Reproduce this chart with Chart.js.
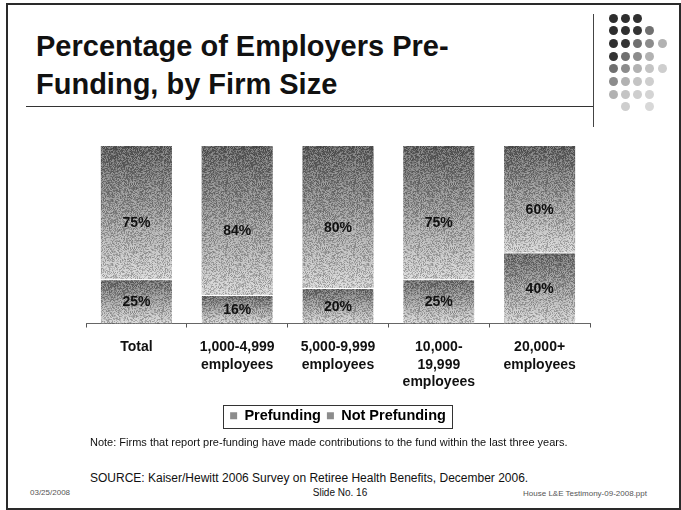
<!DOCTYPE html>
<html>
<head>
<meta charset="utf-8">
<script src="https://cdn.jsdelivr.net/npm/chart.js@4"></script>
<style>
  body { margin: 0; background: #fff; font-family: "Liberation Sans", Arial, sans-serif; }
  #slide { position: relative; width: 681px; height: 510px; overflow: hidden; }
  .abs { position: absolute; white-space: nowrap; color: #111; }
  #frame { position: absolute; left: 6px; top: 3px; width: 675px; height: 507px; box-sizing: border-box; border: 2px solid #2a2a2a; }
  #title { left: 36px; top: 27px; font-size: 29px; font-weight: bold; line-height: 38px; }
  #rule { position: absolute; left: 26px; top: 106px; width: 567px; height: 0; border-top: 1.5px solid #333; }
  #vrule { position: absolute; left: 593px; top: 14px; width: 0; height: 113px; border-left: 1px solid #444; }
  #chartBox { position: absolute; left: 0; top: 130px; }
  .dot { position: absolute; width: 9px; height: 9px; border-radius: 50%; }
</style>
</head>
<body>
<div id="slide">
  <div id="frame"></div>
  <div id="title" class="abs">Percentage of Employers Pre-<br>Funding, by Firm Size</div>
  <div id="rule"></div>
  <div id="vrule"></div>
  <div id="dots"></div>
  <div id="chartBox"><canvas id="fundChart" width="681" height="309"></canvas></div>
  <div class="abs" style="left:90px; top:436px; font-size:11px; line-height:13px;">Note: Firms that report pre-funding have made contributions to the fund within the last three years.</div>
  <div class="abs" style="left:90px; top:471px; font-size:12px; line-height:14px;">SOURCE: Kaiser/Hewitt 2006 Survey on Retiree Health Benefits, December 2006.</div>
  <div class="abs" style="left:290px; width:100px; text-align:center; top:487px; font-size:10px; line-height:12px;">Slide No. 16</div>
  <div class="abs" style="left:30px; top:488px; font-size:8px; line-height:10px; color:#555;">03/25/2008</div>
  <div class="abs" style="right:34px; top:489px; font-size:8px; line-height:10px; color:#555;">House L&amp;E Testimony-09-2008.ppt</div>
</div>

<script>
const categories = [
    'Total',
    ['1,000-4,999', 'employees'],
    ['5,000-9,999', 'employees'],
    ['10,000-', '19,999', 'employees'],
    ['20,000+', 'employees']
];
const prefunding = [25, 16, 20, 25, 40];
const notPrefunding = [75, 84, 80, 75, 60];
const seriesNames = ['Prefunding', 'Not Prefunding'];

// decorative dot block in the corner, darker toward the top-left
const dotRows = [[0, 1, 2], [0, 1, 2, 3], [0, 1, 2, 3, 4], [0, 1, 2, 3], [0, 1, 2, 3, 4], [0, 1, 2, 3], [0, 1, 2, 3], [1, 3]];
const dotShades = ['#2e2e2e', '#2e2e2e', '#303030', '#343434', '#707070', '#8c8c8c', '#b2b2b2', '#c4c4c4', '#cecece', '#d4d4d4', '#d8d8d8'];
const dotsEl = document.getElementById('dots');
dotRows.forEach((cols, r) => {
    cols.forEach(c => {
        const d = document.createElement('div');
        d.className = 'dot';
        d.style.left = (608.5 + c * 12.3) + 'px';
        d.style.top = (13.5 + r * 12.7) + 'px';
        d.style.background = dotShades[Math.min(r + c, dotShades.length - 1)];
        dotsEl.appendChild(d);
    });
});

// grey vertical gradient for each stacked segment
function segmentFill(ctx) {
    const chart = ctx.chart;
    if (!chart.chartArea || ctx.type !== 'data') return '#999';
    const y = chart.scales.y;
    const i = ctx.dataIndex;
    const start = ctx.datasetIndex === 0 ? 0 : prefunding[i];
    const end = ctx.datasetIndex === 0 ? prefunding[i] : 100;
    const top = y.getPixelForValue(end);
    const bottom = y.getPixelForValue(start);
    const g = chart.ctx.createLinearGradient(0, top, 0, bottom);
    g.addColorStop(0, ctx.datasetIndex === 0 ? '#666' : '#5c5c5c');
    g.addColorStop(1, '#d6d6d6');
    return g;
}

// fine grain texture laid over the bars
function makeGrain() {
    const c = document.createElement('canvas');
    c.width = 64; c.height = 64;
    const g = c.getContext('2d');
    const img = g.createImageData(64, 64);
    let s = 12345;
    for (let p = 0; p < 64 * 64; p++) {
        s = (s * 1103515245 + 12345) & 0x7fffffff;
        const v = (s >> 8) & 255;
        const on = v > 128;
        img.data[p * 4] = on ? 255 : 0;
        img.data[p * 4 + 1] = on ? 255 : 0;
        img.data[p * 4 + 2] = on ? 255 : 0;
        img.data[p * 4 + 3] = (v % 64) + 10;
    }
    g.putImageData(img, 0, 0);
    return c;
}
const grainCanvas = makeGrain();

const grainPlugin = {
    id: 'grain',
    afterDatasetsDraw(chart) {
        const ctx = chart.ctx;
        const pattern = ctx.createPattern(grainCanvas, 'repeat');
        chart.data.datasets.forEach((ds, di) => {
            chart.getDatasetMeta(di).data.forEach(el => {
                const { x, y, base, width } = el.getProps(['x', 'y', 'base', 'width'], true);
                ctx.save();
                ctx.fillStyle = pattern;
                ctx.fillRect(x - width / 2, Math.min(y, base) + (di === 0 ? 1 : 0), width, Math.abs(base - y) - (di === 0 ? 1 : 0));
                ctx.restore();
            });
        });
    }
};

const valueLabels = {
    id: 'valueLabels',
    afterDatasetsDraw(chart) {
        const ctx = chart.ctx;
        ctx.save();
        ctx.font = 'bold 14px "Liberation Sans", Arial, sans-serif';
        ctx.fillStyle = '#111';
        ctx.textAlign = 'center';
        ctx.textBaseline = 'middle';
        chart.data.datasets.forEach((ds, di) => {
            chart.getDatasetMeta(di).data.forEach((el, i) => {
                const { x, y, base } = el.getProps(['x', 'y', 'base'], true);
                const shift = di === 1 ? 11 : 1;
                ctx.fillText(ds.data[i] + '%', x, (y + base) / 2 + shift);
            });
        });
        ctx.restore();
    }
};

// thin frame around the legend items
const legendFrame = {
    id: 'legendFrame',
    afterDraw(chart) {
        const boxes = chart.legend && chart.legend.legendHitBoxes;
        if (!boxes || !boxes.length) return;
        const left = Math.min(...boxes.map(b => b.left)) - 7;
        const right = Math.max(...boxes.map(b => b.left + b.width)) + 6;
        const top = Math.min(...boxes.map(b => b.top)) - 4;
        const bottom = Math.max(...boxes.map(b => b.top + b.height)) + 4;
        const ctx = chart.ctx;
        ctx.save();
        ctx.strokeStyle = '#333';
        ctx.lineWidth = 1;
        ctx.strokeRect(Math.round(left) + 0.5, Math.round(top) + 0.5, Math.round(right - left), Math.round(bottom - top));
        ctx.restore();
    }
};

const ctx = document.getElementById('fundChart').getContext('2d');
new Chart(ctx, {
    type: 'bar',
    data: {
        labels: categories,
        datasets: [
            {
                label: seriesNames[0],
                data: prefunding,
                backgroundColor: segmentFill,
                borderColor: '#fff',
                borderWidth: { top: 1, right: 0, bottom: 0, left: 0 },
                borderSkipped: false
            },
            {
                label: seriesNames[1],
                data: notPrefunding,
                backgroundColor: segmentFill,
                borderWidth: 0
            }
        ]
    },
    options: {
        responsive: false,
        animation: false,
        events: [],
        layout: { padding: { left: 86, right: 91, top: 16, bottom: 6 } },
        datasets: { bar: { categoryPercentage: 1, barPercentage: 0.705 } },
        plugins: {
            tooltip: { enabled: false },
            legend: {
                position: 'bottom',
                labels: {
                    color: '#111',
                    font: { family: '"Liberation Sans", Arial, sans-serif', size: 14.5, weight: 'bold' },
                    boxWidth: 7,
                    boxHeight: 7,
                    padding: 6,
                    generateLabels(chart) {
                        return chart.data.datasets.map((ds, i) => ({
                            text: ds.label,
                            fillStyle: '#8c8c8c',
                            strokeStyle: '#8c8c8c',
                            lineWidth: 0,
                            datasetIndex: i
                        }));
                    }
                }
            }
        },
        scales: {
            x: {
                stacked: true,
                grid: {
                    offset: true,
                    drawOnChartArea: false,
                    drawTicks: true,
                    tickLength: 4,
                    color: '#555'
                },
                border: { display: true, color: '#666', width: 1 },
                ticks: {
                    color: '#111',
                    padding: 11,
                    maxRotation: 0,
                    autoSkip: false,
                    font: { family: '"Liberation Sans", Arial, sans-serif', size: 14, weight: 'bold', lineHeight: 1.25 }
                },
                afterFit(scale) { scale.height = 79; }
            },
            y: {
                stacked: true,
                display: false,
                min: 0,
                max: 100
            }
        }
    },
    plugins: [grainPlugin, valueLabels, legendFrame]
});
</script>
</body>
</html>
